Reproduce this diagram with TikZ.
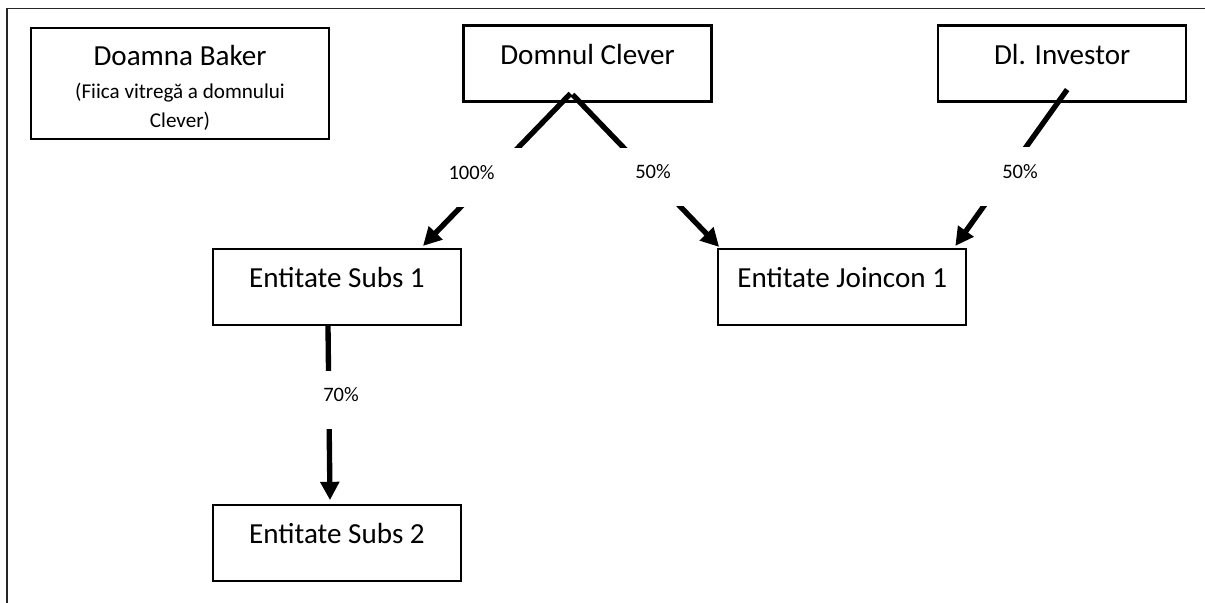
\documentclass[tikz,border=0pt]{standalone}
\usepackage{fontspec}
\setmainfont{Carlito}
\usetikzlibrary{
    arrows.meta,
    positioning,
    calc
}
\newcommand{\notefont}{\fontsize{15}{21}\selectfont}
\tikzset{
    entity box/.style={
        rectangle, draw=black, fill=white, line width=1.5pt,
        minimum width=6.2cm, minimum height=1.9cm,
        inner sep=0pt, font=\fontsize{20.7}{24}\selectfont
    },
    entity/.style={
        entity box, text height=0.5cm, text depth=0.46cm
    },
    share/.style={
        -{Triangle[length=13pt, width=13pt]}, line width=3.8pt
    },
    share label/.style={
        fill=white, inner sep=0pt,
        minimum width=2.6cm, minimum height=1.45cm,
        text height=0.3cm, text depth=0.215cm,
        font=\fontsize{14.6}{17}\selectfont
    },
}

\begin{document}
\begin{tikzpicture}[x=0.025cm, y=-0.025cm]
    \useasboundingbox (0,0) rectangle (1205,603);
    \draw[black!85, line width=1pt] (7,603) -- (7,8.5) -- (1205,8.5);

    \node[entity box, minimum width=7.45cm, minimum height=2.78cm, align=center,
          font=\fontsize{20.7}{21}\selectfont] (baker) at (180,83.5)
        {\rule{0pt}{21pt}Doamna Baker\\[2pt]\notefont (Fiica vitregă a domnului\\\notefont Clever)};

    \node[entity] (clever) at (587.5,63.5) {Domnul Clever};
    \node[entity, right=5.61cm of clever] (investor) {Dl. Investor};

    \node[entity] (subs1) at (337,287) {Entitate Subs 1};
    \node[entity, right=6.375cm of subs1] (joincon) {Entitate Joincon 1};
    \node[entity, below=4.45cm of subs1] (subs2) {Entitate Subs 2};

    \draw[share] ($(clever.south)+(-17,-9)$) -- ($(subs1.north)+(86,-2)$);
    \draw[share] ($(clever.south)+(-15,-8)$) -- ($(joincon.north west)+(2,-1)$);
    \draw[share] ($(investor.south)+(5,-13)$) -- ($(joincon.north east)+(-12,-2)$);
    \draw[share] ($(subs1.south)+(-9,0)$) -- ($(subs2.north)+(-7,-4)$);

    \node[share label] (p100) at (471.5,177.5) {100\%};
    \node[share label] (p50a) at (653,177) {50\%};
    \node[share label] (p50b) at (1020,176.5) {50\%};
    \node[share label] (p70) at (341,400) {70\%};
\end{tikzpicture}
\end{document}
